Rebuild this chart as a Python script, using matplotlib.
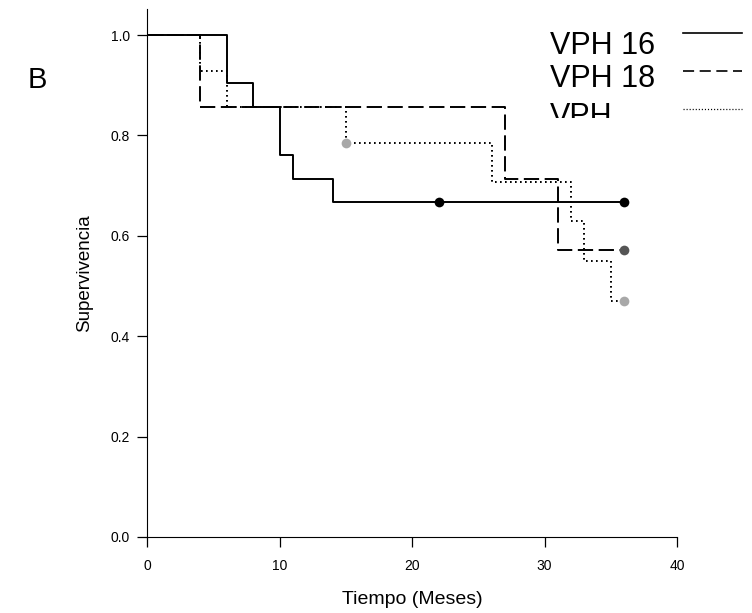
import numpy as np
import matplotlib
matplotlib.use("Agg")
import matplotlib.pyplot as plt
from matplotlib.lines import Line2D
from matplotlib.transforms import Bbox, TransformedBbox

plt.rcParams['font.family'] = ['Liberation Sans', 'DejaVu Sans']
plt.rcParams['lines.scale_dashes'] = False

# Kaplan-Meier steps
t16 = [0, 6, 8, 10, 11, 14, 36]
s16 = [1.0, 0.905, 0.857, 0.762, 0.714, 0.667, 0.667]
cens16_t = [22, 36]
cens16_s = [0.667, 0.667]

t18 = [0, 4, 27, 31, 36]
s18 = [1.0, 0.857, 0.714, 0.571, 0.571]
cens18_t = [36]
cens18_s = [0.571]

tvph = [0, 4, 6, 15, 26, 32, 33, 35, 36]
svph = [1.0, 0.929, 0.857, 0.786, 0.707, 0.629, 0.550, 0.471, 0.471]
censvph_t = [15, 36]
censvph_s = [0.786, 0.471]

labels = ["VPH 16", "VPH 18", "VPH"]
xticks = [0, 10, 20, 30, 40]
yticks = [0.0, 0.2, 0.4, 0.6, 0.8, 1.0]

W, H = 752, 613
fig = plt.figure(figsize=(W / 100, H / 100), dpi=100)
ax = fig.add_axes([147 / W, 1 - 537 / H, (677 - 147) / W, (537 - 9) / H])

lw = 1.4
ax.step(t16, s16, where='post', color='black', lw=lw)
ax.step(t18, s18, where='post', color='black', lw=lw, dashes=(11, 4))
ax.step(tvph, svph, where='post', color='black', lw=lw, dashes=(1.2, 2.4))

ax.plot(cens16_t, cens16_s, 'o', color='black', ms=7, mec='none')
ax.plot(cens18_t, cens18_s, 'o', color='#555555', ms=7, mec='none')
ax.plot(censvph_t, censvph_s, 'o', color='#a8a8a8', ms=7, mec='none')

ax.set_xlim(0, 40)
ax.set_ylim(0, 1.052)
ax.set_xticks(xticks)
ax.set_xticklabels([str(x) for x in xticks])
ax.set_yticks(yticks)
ax.set_yticklabels(["%.1f" % y for y in yticks])
ax.spines['top'].set_visible(False)
ax.spines['right'].set_visible(False)
ax.tick_params(direction='out', length=7.5, width=0.9, labelsize=10)
ax.tick_params(axis='x', pad=8)
ax.tick_params(axis='y', pad=5)
ax.set_xlabel("Tiempo (Meses)", fontsize=14, labelpad=13)
ax.set_ylabel("Supervivencia", fontsize=13.5, labelpad=12)

# panel letter
fig.text(28 / W, 1 - 88 / H, "B", fontsize=21, ha='left', va='baseline')

# legend drawn by hand, last entry cut off like the original
clip = TransformedBbox(Bbox([[0, 1 - 118 / H], [1, 1]]), fig.transFigure)
text_base = [54, 87, 125]
line_y = [33, 71, 109]
styles = [dict(lw=1.2), dict(lw=1.2, dashes=(8, 4)), dict(lw=0.9, dashes=(0.8, 1.4))]
for lab, yb, yl, st in zip(labels, text_base, line_y, styles):
    t = fig.text(550 / W, 1 - yb / H, lab, fontsize=22, ha='left', va='baseline')
    t.set_clip_box(clip)
    t.set_clip_on(True)
    fig.add_artist(Line2D([683 / W, 742 / W], [1 - yl / H, 1 - yl / H],
                          color='black', **st))

fig.savefig("out.png", dpi=100)
